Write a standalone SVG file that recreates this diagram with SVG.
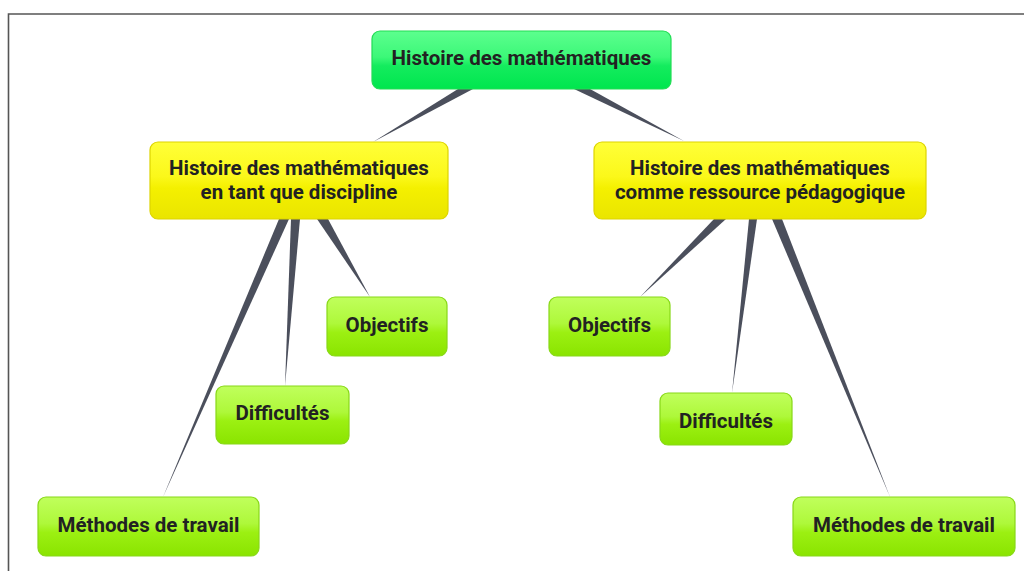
<svg xmlns="http://www.w3.org/2000/svg" width="1024" height="571" viewBox="0 0 1024 571">
<style>
.t{font-family:Roboto,"Liberation Sans",sans-serif;font-weight:bold;font-size:20.5px;fill:#222;text-anchor:middle}
.root rect{fill:url(#gRoot);stroke:#22dd55;stroke-width:1.2}
.sub rect{fill:url(#gYel);stroke:#ddd400;stroke-width:1.2}
.leaf rect{fill:url(#gLeaf);stroke:#88d818;stroke-width:1.2}
.c{fill:#4b4f5c}
</style>
<defs>
<linearGradient id="gRoot" x1="0" y1="0" x2="0" y2="1">
<stop offset="0" stop-color="#5cff8e"/><stop offset="0.45" stop-color="#3cf878"/><stop offset="0.6" stop-color="#14ec5e"/><stop offset="1" stop-color="#00e64e"/>
</linearGradient>
<linearGradient id="gYel" x1="0" y1="0" x2="0" y2="1">
<stop offset="0" stop-color="#ffff38"/><stop offset="0.45" stop-color="#fbf81a"/><stop offset="0.6" stop-color="#f4f000"/><stop offset="1" stop-color="#eae500"/>
</linearGradient>
<linearGradient id="gLeaf" x1="0" y1="0" x2="0" y2="1">
<stop offset="0" stop-color="#c0ff5c"/><stop offset="0.45" stop-color="#aef83a"/><stop offset="0.6" stop-color="#9cf012"/><stop offset="1" stop-color="#8ae400"/>
</linearGradient>
</defs>
<rect x="0" y="0" width="1024" height="571" fill="#fff"/>
<path d="M8.5 571 V14 H1024" fill="none" stroke="#555" stroke-width="1.6"/>
<g id="connectors">
<polygon class="c" points="458,89 473,89 373,142"/>
<polygon class="c" points="574,89 590,89 684,141"/>
<polygon class="c" points="317,219 328,219 370,297"/>
<polygon class="c" points="291,219 300,219 285,386"/>
<polygon class="c" points="279,219 289,219 163,497"/>
<polygon class="c" points="714,219 726,219 640,297"/>
<polygon class="c" points="749,219 757,219 732,393"/>
<polygon class="c" points="772,219 782,219 890,497"/>
</g>
<g id="root" class="root"><rect x="372" y="31" width="299" height="58" rx="8"/><text class="t" x="521.5" y="65">Histoire des mathématiques</text></g>
<g id="left" class="sub"><rect x="150" y="142" width="298" height="77" rx="8"/><text class="t" x="299" y="175">Histoire des mathématiques</text><text class="t" x="299" y="199">en tant que discipline</text></g>
<g id="right" class="sub"><rect x="594" y="142" width="332" height="77" rx="8"/><text class="t" x="760" y="175">Histoire des mathématiques</text><text class="t" x="760" y="199">comme ressource pédagogique</text></g>
<g id="l-obj" class="leaf"><rect x="327" y="297" width="120" height="59" rx="8"/><text class="t" x="387" y="332">Objectifs</text></g>
<g id="l-dif" class="leaf"><rect x="216" y="386" width="133" height="58" rx="8"/><text class="t" x="282.5" y="420">Difficultés</text></g>
<g id="l-met" class="leaf"><rect x="38" y="497" width="221" height="59" rx="8"/><text class="t" x="148.5" y="532">Méthodes de travail</text></g>
<g id="r-obj" class="leaf"><rect x="549" y="297" width="121" height="59" rx="8"/><text class="t" x="609.5" y="332">Objectifs</text></g>
<g id="r-dif" class="leaf"><rect x="660" y="393" width="132" height="52" rx="8"/><text class="t" x="726" y="428">Difficultés</text></g>
<g id="r-met" class="leaf"><rect x="793" y="497" width="222" height="59" rx="8"/><text class="t" x="904" y="532">Méthodes de travail</text></g>
</svg>
